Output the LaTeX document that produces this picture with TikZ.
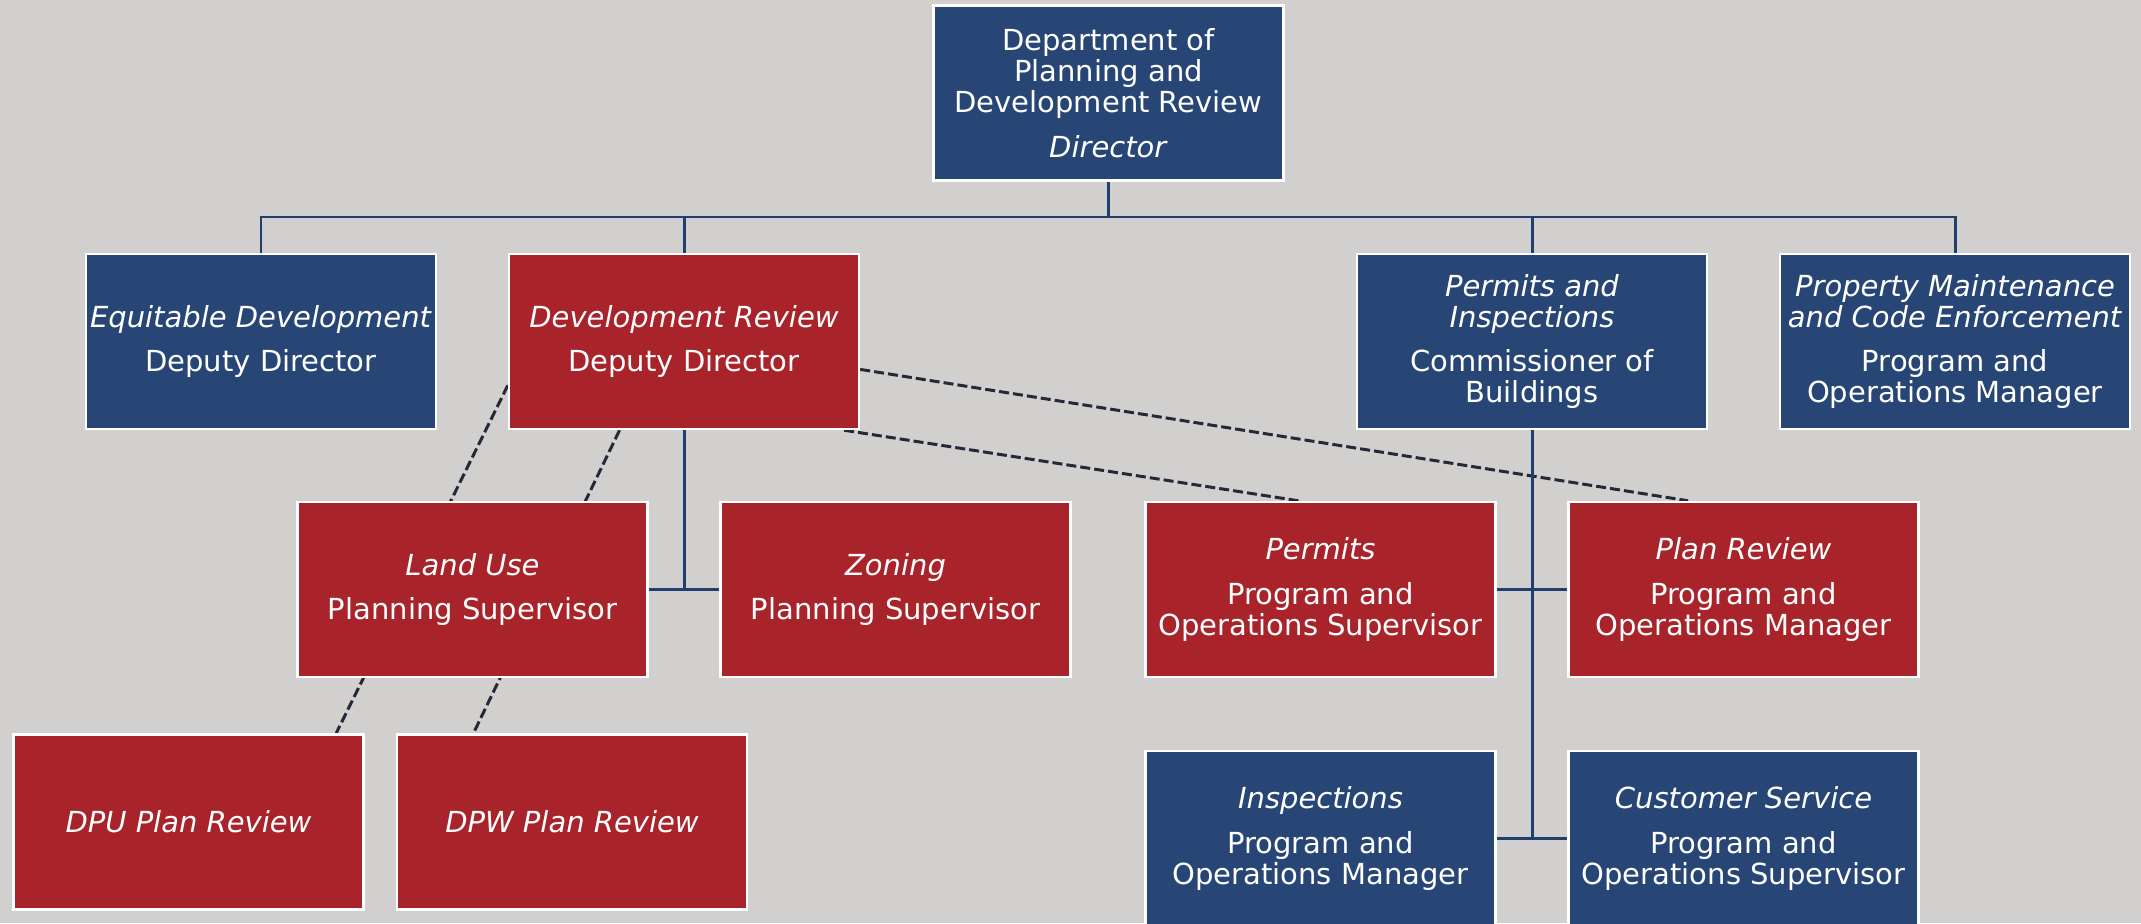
\documentclass[tikz,border=0pt]{standalone}
\usepackage{fontspec}
\setmainfont{DejaVu Sans}
\usepackage{xcolor}
\usepackage{tikz}
\usetikzlibrary{backgrounds}
\definecolor{pagegrey}{HTML}{D1D0CE}
\definecolor{unitblue}{HTML}{274575}
\definecolor{unitred}{HTML}{A8232A}
\definecolor{linkblue}{HTML}{213F6C}
\definecolor{dashgrey}{HTML}{252839}
\tikzstyle{blueunit} = [rectangle, minimum width=7cm, minimum height=3.5cm, inner sep=1pt, text centered, align=center, draw=white, line width=1.4pt, fill=unitblue, text=white, font=\fontsize{16.5}{17.6}\selectfont]
\tikzstyle{redunit} = [blueunit, fill=unitred]
\tikzstyle{link} = [line width=1.7pt, draw=linkblue]
\tikzstyle{dashlink} = [line width=1.7pt, draw=dashgrey, dash pattern=on 5.7pt off 2.3pt]

\begin{document}
\begin{tikzpicture}[node distance=8.46cm]
	\useasboundingbox (0,0) rectangle (42.82,18.46);
	\clip (0,0) rectangle (42.82,18.46);
	\node (dir) [blueunit] at (22.17,16.60) {Department of\\Planning and\\Development Review\\[8pt]\textit{Director}};
	\node (devrev) [redunit, node distance=4.97cm, below of=dir, xshift=-8.49cm] {\textit{Development Review}\\[8pt]Deputy Director};
	\node (pi) [blueunit, node distance=4.97cm, below of=dir, xshift=8.47cm] {\textit{Permits and}\\\textit{Inspections}\\[8pt]Commissioner of\\Buildings};
	\node (eqd) [blueunit, left of=devrev] {\textit{Equitable Development}\\[8pt]Deputy Director};
	\node (pmce) [blueunit, right of=pi] {\textit{Property Maintenance}\\\textit{and Code Enforcement}\\[8pt]Program and\\Operations Manager};
	\node (land) [redunit, node distance=4.96cm, below of=devrev, xshift=-4.23cm] {\textit{Land Use}\\[8pt]Planning Supervisor};
	\node (zon) [redunit, right of=land] {\textit{Zoning}\\[8pt]Planning Supervisor};
	\node (perm) [redunit, node distance=4.96cm, below of=pi, xshift=-4.23cm] {\textit{Permits}\\[8pt]Program and\\Operations Supervisor};
	\node (plan) [redunit, right of=perm] {\textit{Plan Review}\\[8pt]Program and\\Operations Manager};
	\node (dpu) [redunit, node distance=4.65cm, below of=land, xshift=-5.68cm] {\textit{DPU Plan Review}};
	\node (dpw) [redunit, node distance=7.67cm, right of=dpu] {\textit{DPW Plan Review}};
	\node (insp) [blueunit, node distance=4.98cm, below of=perm] {\textit{Inspections}\\[8pt]Program and\\Operations Manager};
	\node (cust) [blueunit, right of=insp] {\textit{Customer Service}\\[8pt]Program and\\Operations Supervisor};
	\coordinate [node distance=2.48cm, below of=dir] (bus);

	\draw [link] (dir.south) -- (bus);
	\draw [link] (eqd.north) |- (bus) -| (pmce.north);
	\draw [link] (devrev.north) -- (devrev.north |- bus);
	\draw [link] (pi.north) -- (pi.north |- bus);
	\draw [link] (devrev.south) -- (devrev.south |- land.east);
	\draw [link] (land.east) -- (zon.west);
	\draw [link] (pi.south) -- (pi.south |- insp.east);
	\draw [link] (perm.east) -- (plan.west);
	\draw [link] (insp.east) -- (cust.west);

	\begin{scope}[on background layer]
		\fill [pagegrey] (0,0) rectangle (42.82,18.46);
		\draw [dashlink] (devrev.194) -- (dpu.31);
		\draw [dashlink] (devrev.234) -- (dpw.138);
		\draw [dashlink] (devrev.351) -- (plan.122);
		\draw [dashlink] (devrev.331) -- (perm.104);
	\end{scope}
\end{tikzpicture}
\end{document}
